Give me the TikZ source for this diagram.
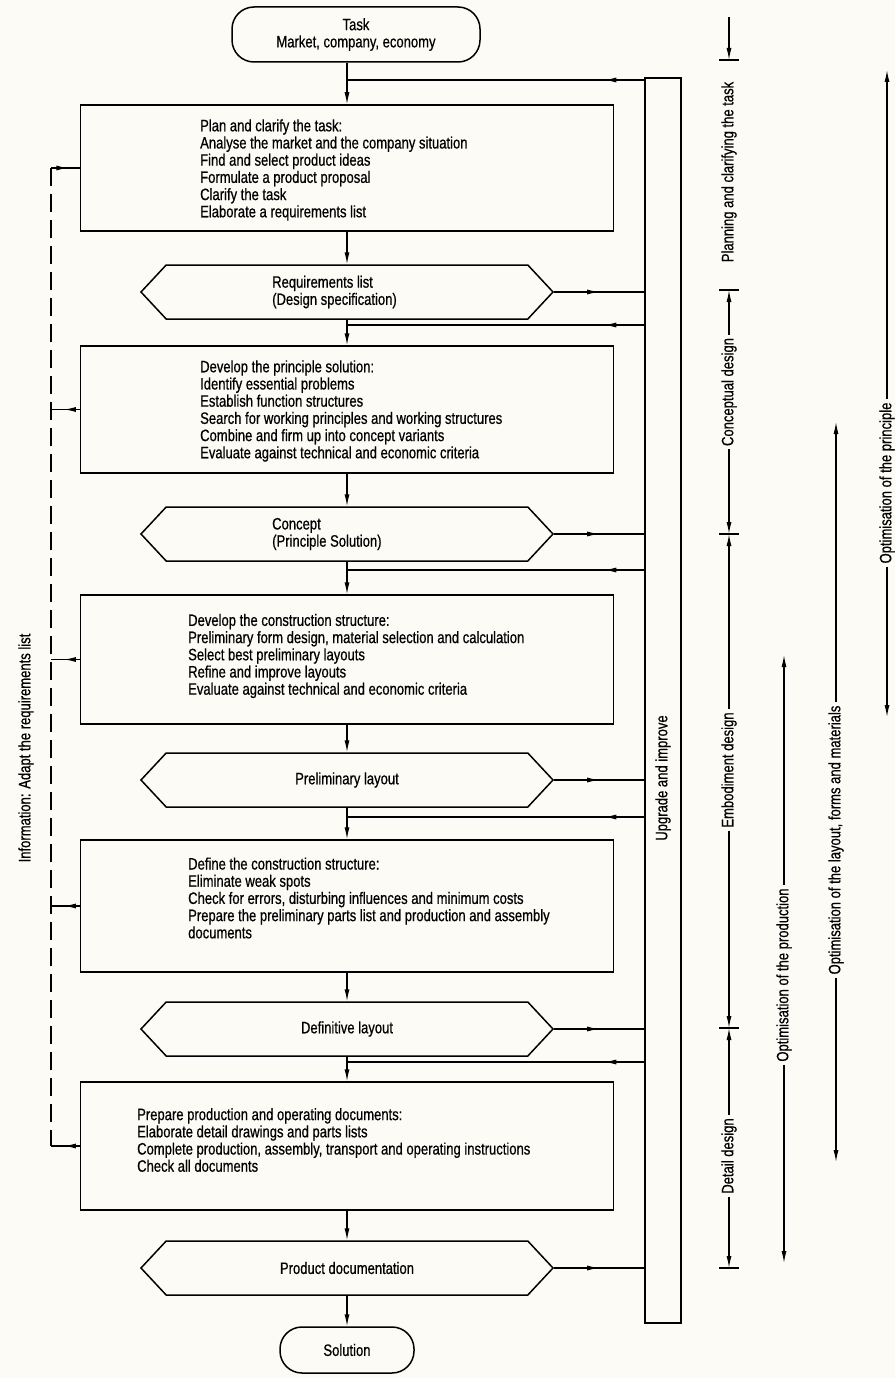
\documentclass[tikz,border=0pt]{standalone}
\usepackage{fontspec}
\setmainfont[FakeStretch=0.79,FakeBold=0.6]{Liberation Sans}
\usetikzlibrary{arrows.meta,shapes.symbols,decorations.markings}
\definecolor{paper}{RGB}{252,251,245}
\tikzstyle{terminal}=[draw, line width=1.5pt, rounded corners=22pt, align=center, inner sep=0pt]
\tikzstyle{block}=[draw, line width=1.5pt, minimum width=533pt, inner sep=0pt]
\tikzstyle{blocktext}=[anchor=west, align=left, inner sep=0pt]
\tikzstyle{result}=[draw, line width=1.5pt, signal, signal to=west and east, signal pointer angle=94, minimum width=412pt, minimum height=54pt, align=left, inner sep=0pt]
\tikzstyle{edgeline}=[line width=1.2pt]
\tikzstyle{flow}=[edgeline, -{Latex[length=12pt,width=5pt]}]
\tikzstyle{infoline}=[edgeline, dash pattern=on 18pt off 8pt]
\tikzstyle{sidelabel}=[rotate=90, inner sep=3pt]
\tikzset{midflow/.style={edgeline, postaction={decorate}, decoration={markings, mark=at position #1 with {\arrow{Latex[length=12pt,width=5pt]}}}}, midflow/.default=0.5}

\begin{document}
\begin{tikzpicture}[x=1pt,y=-1pt,font=\fontsize{16.5}{17.2}\selectfont]
\fill[paper] (0,0) rectangle (895,1378);
\useasboundingbox (0,0) rectangle (895,1378);

% main chain
\node[terminal,minimum width=248pt,minimum height=55pt] (task) at (356,34.5) {Task\\Market, company, economy};
\node[block,minimum height=126pt] (plan) at (347,168) {};
\node[blocktext] (plantext) at (200,170) {Plan and clarify the task:\\Analyse the market and the company situation\\Find and select product ideas\\Formulate a product proposal\\Clarify the task\\Elaborate a requirements list};
\node[result] (reqs) at (347,292) {};
\node[blocktext] (reqstext) at (272,292) {Requirements list\\(Design specification)};
\node[block,minimum height=127pt] (principle) at (347,409.5) {};
\node[blocktext] (principletext) at (200,411) {Develop the principle solution:\\Identify essential problems\\Establish function structures\\Search for working principles and working structures\\Combine and firm up into concept variants\\Evaluate against technical and economic criteria};
\node[result] (concept) at (347,534) {};
\node[blocktext] (concepttext) at (272,534) {Concept\\(Principle Solution)};
\node[block,minimum height=129pt] (construct) at (347,659.5) {};
\node[blocktext] (constructtext) at (188,656) {Develop the construction structure:\\Preliminary form design, material selection and calculation\\Select best preliminary layouts\\Refine and improve layouts\\Evaluate against technical and economic criteria};
\node[result] (prelim) at (347,780) {Preliminary layout};
\node[block,minimum height=132pt] (define) at (347,906) {};
\node[blocktext] (definetext) at (188,898) {Define the construction structure:\\Eliminate weak spots\\Check for errors, disturbing influences and minimum costs\\Prepare the preliminary parts list and production and assembly\\documents};
\node[result] (definitive) at (347,1029) {Definitive layout};
\node[block,minimum height=128pt] (prepare) at (347,1146) {};
\node[blocktext] (preparetext) at (137,1140) {Prepare production and operating documents:\\Elaborate detail drawings and parts lists\\Complete production, assembly, transport and operating instructions\\Check all documents};
\node[result] (docs) at (347,1268) {Product documentation};
\node[terminal,minimum width=134pt,minimum height=46pt] (solution) at (347,1350) {Solution};

\draw[flow] (task.south -| plan.north) -- (plan.north);
\draw[flow] (plan.south) -- (reqs.north);
\draw[flow] (reqs.south) -- (principle.north);
\draw[flow] (principle.south) -- (concept.north);
\draw[flow] (concept.south) -- (construct.north);
\draw[flow] (construct.south) -- (prelim.north);
\draw[flow] (prelim.south) -- (define.north);
\draw[flow] (define.south) -- (definitive.north);
\draw[flow] (definitive.south) -- (prepare.north);
\draw[flow] (prepare.south) -- (docs.north);
\draw[flow] (docs.south) -- (solution.north);

% upgrade bar
\node[draw,line width=1.5pt,minimum width=36pt,minimum height=1245pt,inner sep=0pt] (upgrade) at (663,700.5) {};
\node[sidelabel] (upgradetext) at (663,778) {Upgrade and improve};

\coordinate (j0) at (347,80);
\coordinate (j1) at (347,325);
\coordinate (j2) at (347,570);
\coordinate (j3) at (347,817);
\coordinate (j4) at (347,1062);
\foreach \j in {j0,j1,j2,j3,j4}
  \draw[midflow=40pt] (upgrade.west |- \j) -- (\j);
\foreach \r in {reqs,concept,prelim,definitive,docs}
  \draw[midflow] (\r.east) -- (upgrade.west |- \r.east);

% information feedback
\coordinate (inf) at (51,0);
\draw[infoline] (plan.west -| inf) -- (prepare.west -| inf);
\draw[midflow=0.6] (plan.west -| inf) -- (plan.west);
\foreach \b in {principle,construct,define,prepare}
  \draw[midflow=0.55] (\b.west) -- (\b.west -| inf);
\node[sidelabel] (infotext) at (26,748) {Information: Adapt the requirements list};

% phases
\coordinate (ttop) at (729,17);
\coordinate (t0) at (729,60);
\coordinate (t1) at (729,290);
\coordinate (t2) at (729,534);
\coordinate (t3) at (729,1028);
\coordinate (t4) at (729,1268);
\foreach \t in {t0,t1,t2,t3,t4}
  \draw[edgeline] ([xshift=-10pt]\t) -- ([xshift=10pt]\t);
\draw[flow] (ttop) -- (t0);
\node[sidelabel] (planning) at (729,172) {Planning and clarifying the task};
\node[sidelabel] (conceptual) at (729,392) {Conceptual design};
\node[sidelabel] (embodiment) at (729,770) {Embodiment design};
\node[sidelabel] (detail) at (729,1156) {Detail design};
\draw[flow] (conceptual.east) -- (t1);
\draw[flow] (conceptual.west) -- (t2);
\draw[flow] (embodiment.east) -- (t2);
\draw[flow] (embodiment.west) -- (t3);
\draw[flow] (detail.east) -- (t3);
\draw[flow] (detail.west) -- (t4);

% optimisation ranges
\coordinate (p1) at (784,655);
\coordinate (p2) at (784,1263);
\coordinate (l1) at (836,422);
\coordinate (l2) at (836,1162);
\coordinate (r1) at (887,70);
\coordinate (r2) at (887,717);
\node[sidelabel] (production) at (784,975) {Optimisation of the production};
\node[sidelabel] (layout) at (836,840) {Optimisation of the layout, forms and materials};
\node[sidelabel] (principleopt) at (887,483) {Optimisation of the principle};
\draw[flow] (production.east) -- (p1);
\draw[flow] (production.west) -- (p2);
\draw[flow] (layout.east) -- (l1);
\draw[flow] (layout.west) -- (l2);
\draw[flow] (principleopt.east) -- (r1);
\draw[flow] (principleopt.west) -- (r2);
\end{tikzpicture}
\end{document}
